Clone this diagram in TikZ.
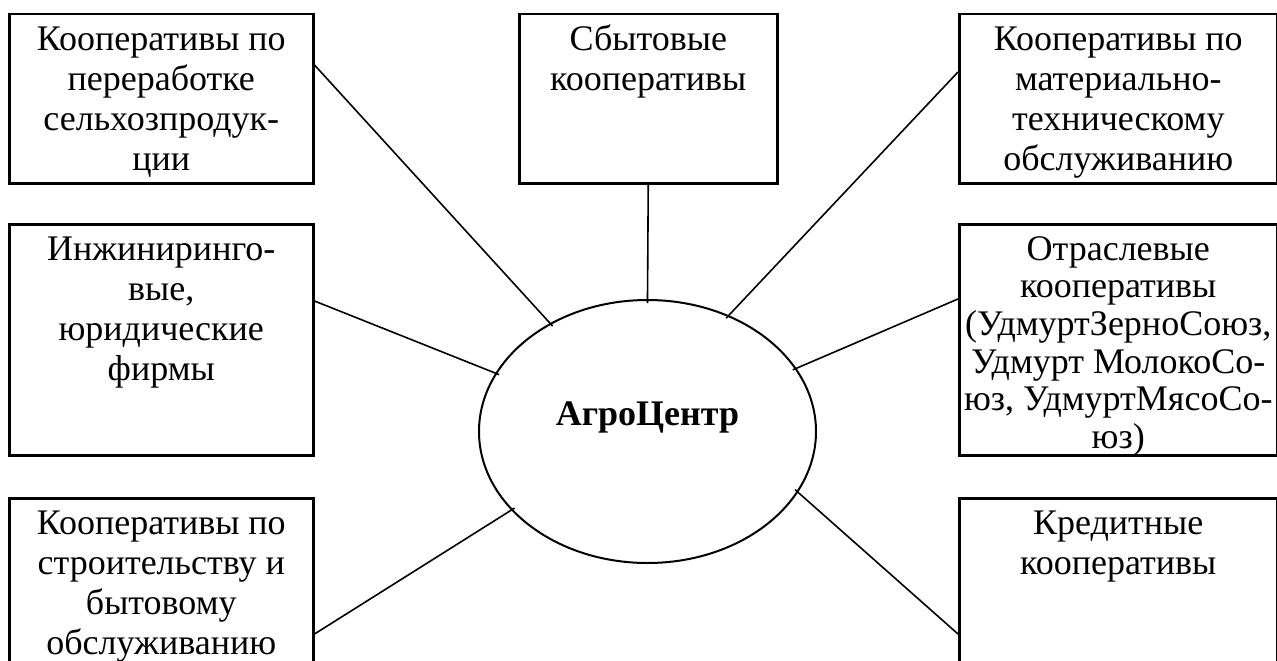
\documentclass[tikz,border=0pt]{standalone}
\usepackage{fontspec}
\setmainfont{Liberation Serif}
\usetikzlibrary{shapes.geometric}
\newcommand{\boxtext}[4][40]{\parbox[t][#3pt][t]{#2pt}{\centering\fontsize{36}{#1}\selectfont\rule{0pt}{36pt}#4}}

\begin{document}
\begin{tikzpicture}[x=1pt,y=-1pt,
    box/.style={draw,line width=2.5pt,inner sep=0pt,anchor=north west},
    hub/.style={draw,ellipse,line width=2pt,inner sep=0pt,minimum width=337pt,minimum height=263pt,
      text height=26pt,text depth=39pt,font=\fontsize{36}{40}\selectfont\bfseries},
    link/.style={line width=1.6pt,shorten >=-4pt}]
  \useasboundingbox (0,0) rectangle (1277,661);
  \clip (0,0) rectangle (1277,661);

  \node[box] (pererab) at (8,13) {\boxtext{304}{169}{Кооперативы по\\переработке\\сельхозпродук-\\ции}};
  \node[box] (sbyt) at (518,13) {\boxtext{258}{169}{Сбытовые\\кооперативы}};
  \node[box] (mtech) at (958,13) {\boxtext{318}{169}{Кооперативы по\\материально-\\техническому\\обслуживанию}};
  \node[box] (inzh) at (8,223) {\boxtext{304}{231}{Инжиниринго-\\вые,\\юридические\\фирмы}};
  \node[box] (otrasl) at (958,223) {\boxtext[37.6]{318}{231}{Отраслевые\\кооперативы\\(УдмуртЗерноСоюз,\\Удмурт МолокоСо-\\юз, УдмуртМясоСо-\\юз)}};
  \node[box] (stroi) at (8,497) {\boxtext{304}{200}{Кооперативы по\\строительству и\\бытовому\\обслуживанию}};
  \node[box] (kredit) at (958,497) {\boxtext{318}{200}{Кредитные\\кооперативы}};

  \node[hub] (agro) at (647.5,431.5) {АгроЦентр};

  \draw[link] (pererab.north east) ++(0,52) -- (agro.132);
  \draw[link] (sbyt.south) -- (agro.north);
  \draw[link] (mtech.north west) ++(0,59) -- (agro.55);
  \draw[link] (inzh.north east) ++(0,78) -- (agro.159);
  \draw[link] (otrasl.north west) ++(0,76) -- (agro.23);
  \draw[link] (stroi.north east) ++(0,137) -- (agro.210);
  \draw[link] (kredit.north west) ++(0,137) -- (agro.338);
\end{tikzpicture}
\end{document}
